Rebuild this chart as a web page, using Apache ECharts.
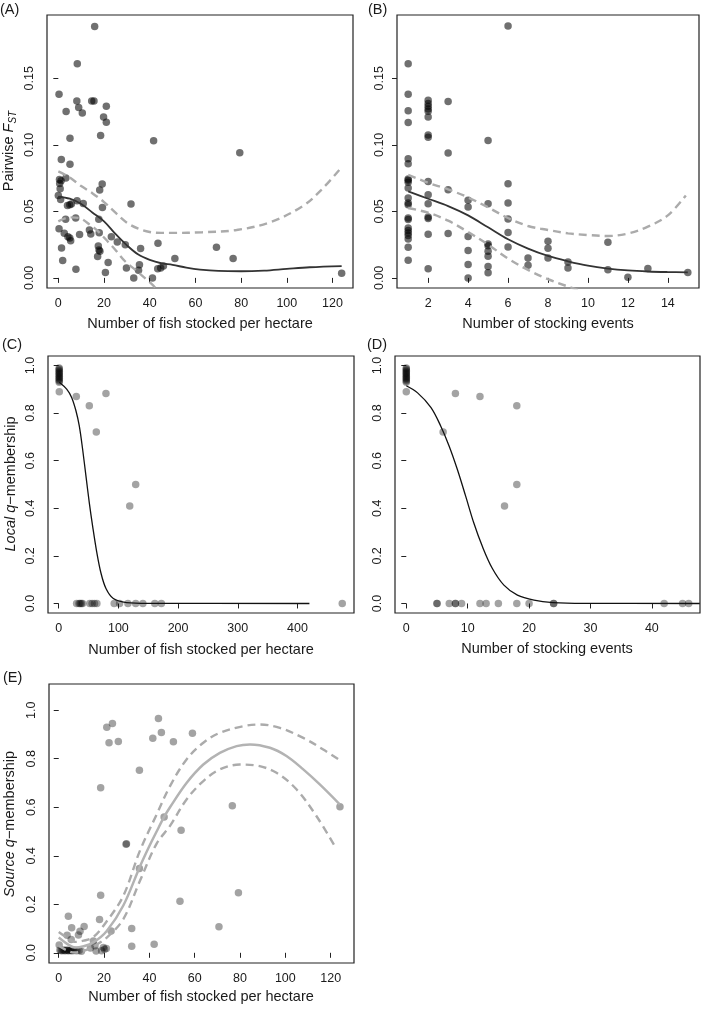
<!DOCTYPE html>
<html><head><meta charset="utf-8">
<script src="https://cdn.jsdelivr.net/npm/echarts@6/dist/echarts.min.js"></script>
<style>html,body{margin:0;padding:0;background:#fff}#c{width:702px;height:1009px}</style>
</head><body><div id="c"></div>
<script>
// ---------- Panel A: FST vs fish stocked per hectare ----------
const aPts = [[0.3,0.138],[8.3,0.161],[15.9,0.189],[8.1,0.133],[8.9,0.128],[3.4,0.125],[10.5,0.124],[14.6,0.133],[15.6,0.133],[21.0,0.129],[19.8,0.121],[21.0,0.117],[18.5,0.107],[5.1,0.105],[41.7,0.103],[79.4,0.094],[1.3,0.089],[5.1,0.0855],[3.3,0.075],[0.5,0.074],[1.2,0.073],[0.6,0.071],[19.2,0.0705],[18.1,0.066],[0.8,0.067],[0,0.062],[1.0,0.059],[8.2,0.058],[10.9,0.056],[31.8,0.0555],[4.0,0.0545],[5.0,0.055],[5.7,0.0555],[19.3,0.053],[3.2,0.044],[7.6,0.045],[17.7,0.044],[0.3,0.037],[13.6,0.036],[14.2,0.033],[9.3,0.0326],[2.6,0.0335],[4.2,0.031],[5.0,0.030],[5.4,0.028],[17.9,0.034],[23.2,0.031],[25.8,0.027],[29.3,0.025],[43.6,0.026],[36.0,0.022],[1.4,0.0225],[17.5,0.024],[17.8,0.021],[18.2,0.020],[17.2,0.016],[51.0,0.0145],[69.2,0.023],[76.5,0.0145],[1.9,0.013],[21.8,0.0115],[7.7,0.0065],[20.6,0.004],[29.8,0.0075],[35.5,0.0098],[35.1,0.0057],[33.0,0.0],[41.2,0.0],[43.5,0.0068],[44.8,0.0075],[46.0,0.009],[124,0.0035]];
const aFit = [[0,0.061],[5,0.0595],[10,0.0555],[15,0.049],[20,0.0425],[25,0.033],[30,0.0245],[35,0.0175],[40,0.0135],[45,0.011],[50,0.0098],[56,0.0077],[62,0.0062],[70,0.0052],[80,0.005],[90,0.0055],[100,0.0068],[110,0.008],[124,0.0089]];
const aUpper = [[0,0.080],[5,0.0755],[10,0.069],[15,0.0635],[20,0.057],[25,0.049],[30,0.0415],[35,0.037],[40,0.0345],[45,0.0338],[50,0.0338],[63,0.0343],[78,0.036],[93,0.042],[107,0.054],[115,0.066],[123.3,0.0818]];
const aLower = [[0,0.0425],[5,0.0455],[9,0.045],[14.5,0.039],[17.4,0.035],[21.8,0.027],[25,0.021],[29.1,0.0127],[34.2,0.0053],[39.3,-0.0022],[42,-0.0065],[44,-0.0095]];

// ---------- Panel B: FST vs stocking events ----------
const bPts = [[1,0.161],[1,0.138],[1,0.1256],[1,0.1168],[1,0.0895],[1,0.0858],[1,0.0743],[1,0.0733],[1,0.0718],[1,0.0676],[1,0.060],[1,0.0563],[1,0.055],[1,0.045],[1,0.0438],[1,0.0375],[1,0.0357],[1,0.0338],[1,0.0318],[1,0.0293],[1,0.023],[1,0.0132],
 [2,0.1335],[2,0.131],[2,0.129],[2,0.127],[2,0.1253],[2,0.121],[2,0.1074],[2,0.1058],[2,0.0725],[2,0.0624],[2,0.0557],[2,0.0457],[2,0.0447],[2,0.0328],[2,0.0069],
 [3,0.1326],[3,0.0938],[3,0.0663],[3,0.0333],
 [4,0.0583],[4,0.0533],[4,0.0312],[4,0.0205],[4,0.010],[4,0.0],
 [5,0.1032],[5,0.0557],[5,0.0255],[5,0.0242],[5,0.020],[5,0.0163],[5,0.0085],[5,0.0038],
 [6,0.1894],[6,0.0708],[6,0.0563],[6,0.0443],[6,0.0342],[6,0.0233],
 [7,0.015],[7,0.0095],[8,0.0275],[8,0.0222],[8,0.015],[9,0.012],[9,0.0075],[11,0.0267],[11,0.0062],[12,0.0005],[13,0.007],[15,0.004]];
const bFit = [[1,0.065],[2,0.0595],[3,0.054],[4,0.047],[5,0.038],[6,0.029],[7,0.022],[8,0.0165],[9,0.0125],[10,0.0092],[11,0.007],[12,0.0056],[13,0.0048],[14,0.0044],[15,0.0042]];
const bUpper = [[1,0.0775],[2,0.0715],[3,0.0665],[4,0.0605],[5,0.053],[6,0.045],[7,0.039],[8,0.036],[9,0.0335],[10,0.0322],[11,0.0315],[12,0.0333],[13,0.0385],[14,0.047],[14.9,0.062]];
const bLower = [[1,0.0525],[2,0.049],[3,0.043],[4,0.0345],[5,0.025],[6,0.0145],[7,0.006],[8,-0.001],[9,-0.0065],[9.5,-0.009]];

// ---------- Panel C: Local q-membership vs fish stocked per hectare ----------
const cPts = [[0.8,0.99],[1,0.985],[0.6,0.98],[1,0.975],[0.8,0.97],[1,0.965],[0.6,0.96],[1,0.955],[0.8,0.95],[1,0.945],[0.6,0.94],[1,0.935],[0.8,0.93],[1,0.89],
 [29.5,0.870],[51.3,0.831],[63.0,0.721],[79.2,0.882],[119,0.41],[129,0.50],
 [30,0],[34,0],[36,0],[38,0],[40,0],[52,0],[56,0],[60,0],[64,0],[93,0],[102,0],[116,0],[129,0],[141,0],[161,0],[172,0],[475,0]];
const cFit = [[1,0.93],[13.4,0.901],[21.7,0.866],[28.9,0.81],[34.5,0.746],[40.1,0.648],[45.7,0.535],[51.3,0.423],[56.9,0.324],[63.6,0.218],[70.9,0.127],[79.2,0.063],[91.5,0.021],[113.8,0.004],[150,0.0005],[420,0]];

// ---------- Panel D: Local q-membership vs stocking events ----------
const dPts = [[0,0.99],[0,0.985],[0,0.98],[0,0.975],[0,0.97],[0,0.965],[0,0.96],[0,0.955],[0,0.95],[0,0.945],[0,0.94],[0,0.935],[0,0.93],[0,0.89],
 [6,0.721],[8,0.882],[12,0.870],[18,0.831],[16,0.41],[18,0.50],
 [5,0],[5,0],[7,0],[8,0],[8,0],[9,0],[12,0],[13,0],[15,0],[18,0],[20,0],[24,0],[24,0],[42,0],[45,0],[46,0]];
const dFit = [[0,0.915],[1.84,0.885],[4.0,0.824],[5.6,0.746],[6.97,0.662],[8.32,0.563],[9.67,0.451],[11.0,0.338],[12.4,0.239],[14.0,0.148],[15.9,0.077],[18.1,0.035],[20.8,0.014],[23.9,0.004],[28.9,0.0005],[47.8,0]];

// ---------- Panel E: Source q-membership vs fish stocked per hectare ----------
const ePts = [[21.2,0.930],[23.7,0.945],[22.2,0.866],[26.3,0.871],[44,0.966],[45.3,0.908],[41.5,0.884],[50.6,0.870],[59,0.905],[35.6,0.752],[18.5,0.680],[76.6,0.606],[124.1,0.602],[46.5,0.560],[54,0.505],[29.7,0.447],[29.9,0.450],[35.6,0.348],[18.5,0.237],[79.3,0.248],[53.5,0.213],[70.7,0.107],[18.0,0.137],[32.2,0.100],[32.2,0.027],[42.1,0.035],[23.1,0.090],
 [4.25,0.151],[5.7,0.103],[11.2,0.108],[9.4,0.089],[3.7,0.072],[8.7,0.073],[5.5,0.055],[15.3,0.049],[16.0,0.029],[0.2,0.032],[19.7,0.022],[21.0,0.018],[20.2,0.015],[18.9,0.008],[16.5,0.007],[14,0.02],
 [0.5,0.012],[1,0.01],[1.5,0.008],[2,0.012],[2.5,0.01],[3,0.008],[3.5,0.012],[4,0.01],[4.5,0.009],[5,0.011],[5.5,0.01],[6,0.008],[6.5,0.012],[7,0.01],[8,0.009],[9,0.01],[10,0.006]];
const eFit = [[0,0.063],[4,0.035],[7,0.022],[11,0.027],[15.3,0.043],[21.2,0.09],[28.5,0.195],[35.8,0.355],[40,0.44],[43.2,0.50],[46.5,0.56],[49.1,0.60],[56.4,0.70],[63.8,0.776],[71.1,0.824],[78.5,0.852],[84.4,0.859],[93.2,0.845],[100.5,0.811],[107.9,0.756],[115.2,0.694],[124,0.612]];
const eUpper = [[0,0.086],[4,0.06],[7,0.045],[11,0.05],[15.3,0.065],[21.2,0.13],[28.5,0.235],[35.8,0.42],[43.2,0.57],[49.1,0.687],[56.4,0.797],[63.8,0.866],[71.1,0.907],[81.4,0.934],[88.8,0.941],[97.6,0.927],[107.9,0.886],[116.7,0.838],[124,0.794]];
const eLower = [[0,0.029],[4,0.008],[7,0.001],[11,0.008],[15.3,0.026],[21.2,0.063],[28.5,0.139],[35.8,0.296],[43.2,0.45],[49.1,0.523],[56.4,0.632],[63.8,0.708],[71.1,0.756],[79.9,0.776],[87.3,0.772],[96.1,0.742],[104.9,0.674],[113.7,0.564],[121.8,0.44]];

// ---------- tick labels ----------
const ticksFish = [0,20,40,60,80,100,120];
const ticksEvents = [2,4,6,8,10,12,14];
const ticksFst = [0,0.05,0.10,0.15];
const ticksFishC = [0,100,200,300,400];
const ticksEventsD = [0,10,20,30,40];
const ticksQ = [0,0.2,0.4,0.6,0.8,1.0];

const FONT = 'Liberation Sans, Arial, Helvetica, sans-serif';
const TXT = '#1a1a1a';

const grids = [
  {left:47, top:15, width:306, height:273},
  {left:397, top:15, width:302, height:273},
  {left:48, top:356, width:306, height:257},
  {left:395, top:356, width:305, height:257},
  {left:49, top:684, width:305, height:279}
].map(g => Object.assign({show:true, borderColor:'#222', borderWidth:1.2, backgroundColor:'transparent'}, g));

function xAx(i, min, max, ticks) {
  return {type:'value', gridIndex:i, min:min, max:max,
    axisLine:{show:false}, splitLine:{show:false},
    axisTick:{show:true, length:5, customValues:ticks, lineStyle:{color:'#222', width:1}},
    axisLabel:{show:true, customValues:ticks, margin:9, fontSize:12.5, color:TXT, fontFamily:FONT}};
}
function yAx(i, min, max, ticks, dec) {
  return {type:'value', gridIndex:i, min:min, max:max,
    axisLine:{show:false}, splitLine:{show:false},
    axisTick:{show:true, length:5, customValues:ticks, lineStyle:{color:'#222', width:1}},
    axisLabel:{show:true, customValues:ticks, rotate:90, margin:11, fontSize:12.5, color:TXT, fontFamily:FONT,
      formatter: v => Number(v).toFixed(dec)}};
}

function scat(i, data, alpha) {
  return {type:'scatter', xAxisIndex:i, yAxisIndex:i, data:data, symbol:'circle', symbolSize:7.5,
    itemStyle:{color:'rgba(0,0,0,'+alpha+')'}, emphasis:{disabled:true}, silent:true, z:2};
}
function line(i, data, color, width, dashed) {
  return {type:'line', xAxisIndex:i, yAxisIndex:i, data:data, showSymbol:false, smooth:0.35, clip:true,
    lineStyle:{color:color, width:width, type: dashed ? [8,5] : 'solid', cap:'butt'}, silent:true, z:3};
}

const DASH = '#ababab';
const option = {
  animation:false,
  grid: grids,
  xAxis: [xAx(0,-4.96,128.96,ticksFish), xAx(1,0.44,15.56,ticksEvents), xAx(2,-17.9,494.7,ticksFishC), xAx(3,-1.84,47.84,ticksEventsD), xAx(4,-4.3,130.3,ticksFish)],
  yAxis: [yAx(0,-0.0076,0.1976,ticksFst,2), yAx(1,-0.0076,0.1976,ticksFst,2), yAx(2,-0.04,1.04,ticksQ,1), yAx(3,-0.04,1.04,ticksQ,1), yAx(4,-0.042,1.108,ticksQ,1)],
  series: [
    scat(0,aPts,0.7), line(0,aUpper,DASH,2.4,true), line(0,aLower,DASH,2.4,true), line(0,aFit,'#333',1.8,false),
    scat(1,bPts,0.7), line(1,bUpper,DASH,2.4,true), line(1,bLower,DASH,2.4,true), line(1,bFit,'#333',1.8,false),
    scat(2,cPts,0.45), line(2,cFit,'#111',1.3,false),
    scat(3,dPts,0.45), line(3,dFit,'#111',1.3,false),
    scat(4,ePts,0.45), line(4,eUpper,DASH,2.4,true), line(4,eLower,DASH,2.4,true), line(4,eFit,'#b3b3b3',2.5,false)
  ],
  graphic: [
    {type:'text', left:0, top:2, style:{text:'(A)', font:'14.5px '+FONT, fill:TXT}},
    {type:'text', left:368, top:2, style:{text:'(B)', font:'14.5px '+FONT, fill:TXT}},
    {type:'text', left:2, top:337, style:{text:'(C)', font:'14.5px '+FONT, fill:TXT}},
    {type:'text', left:367, top:337, style:{text:'(D)', font:'14.5px '+FONT, fill:TXT}},
    {type:'text', left:3, top:670, style:{text:'(E)', font:'14.5px '+FONT, fill:TXT}},
    {type:'text', x:200, y:324, style:{text:'Number of fish stocked per hectare', font:'14.5px '+FONT, fill:TXT, align:'center', verticalAlign:'middle'}},
    {type:'text', x:548, y:324, style:{text:'Number of stocking events', font:'14.5px '+FONT, fill:TXT, align:'center', verticalAlign:'middle'}},
    {type:'text', x:201, y:650, style:{text:'Number of fish stocked per hectare', font:'14.5px '+FONT, fill:TXT, align:'center', verticalAlign:'middle'}},
    {type:'text', x:547, y:649, style:{text:'Number of stocking events', font:'14.5px '+FONT, fill:TXT, align:'center', verticalAlign:'middle'}},
    {type:'text', x:201, y:997, style:{text:'Number of fish stocked per hectare', font:'14.5px '+FONT, fill:TXT, align:'center', verticalAlign:'middle'}},
    {type:'text', x:9, y:151, rotation:Math.PI/2, style:{text:'{n|Pairwise }{i|F}{s|ST}', align:'center', verticalAlign:'middle', fill:TXT,
      rich:{n:{fontSize:14.5, fontFamily:FONT, fill:TXT, lineHeight:18}, i:{fontSize:14.5, fontFamily:FONT, fontStyle:'italic', fill:TXT, lineHeight:18}, s:{fontSize:10, fontFamily:FONT, fontStyle:'italic', fill:TXT, lineHeight:8, verticalAlign:'bottom'}}}},
    {type:'text', x:11, y:484, rotation:Math.PI/2, style:{text:'{i|Local q}{n|\u2212membership}', align:'center', verticalAlign:'middle', fill:TXT,
      rich:{n:{fontSize:14.5, fontFamily:FONT, fill:TXT}, i:{fontSize:14.5, fontFamily:FONT, fontStyle:'italic', fill:TXT}}}},
    {type:'text', x:10, y:824, rotation:Math.PI/2, style:{text:'{i|Source q}{n|\u2212membership}', align:'center', verticalAlign:'middle', fill:TXT,
      rich:{n:{fontSize:14.5, fontFamily:FONT, fill:TXT}, i:{fontSize:14.5, fontFamily:FONT, fontStyle:'italic', fill:TXT}}}}
  ]
};
const chart = echarts.init(document.getElementById('c'), null, {renderer:'canvas'});
chart.setOption(option);
</script>
</body></html>
